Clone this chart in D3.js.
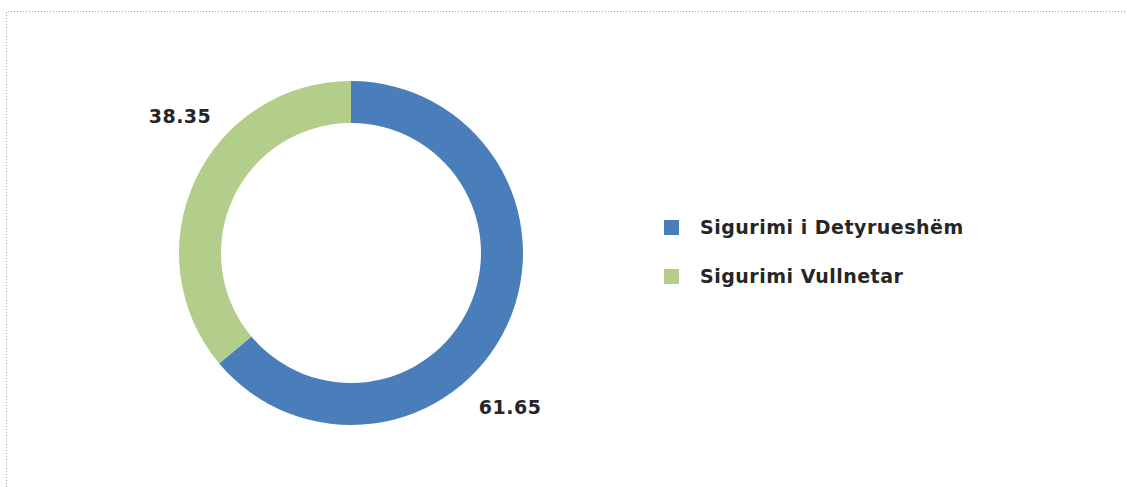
<!DOCTYPE html>
<html>
<head>
<meta charset="utf-8">
<script src="https://cdn.jsdelivr.net/npm/d3@7"></script>
<style>
  body { margin: 0; background: #fff; }
  text { font-family: "DejaVu Sans", sans-serif; font-weight: bold; fill: #262626; letter-spacing: 0.5px; }
</style>
</head>
<body>
<div id="chart"></div>
<script>
// data
var categories = ['Sigurimi i Detyrueshëm', 'Sigurimi Vullnetar']
var values = [61.65, 38.35]          // printed labels
var drawnShare = [63.9, 36.1]        // slice sizes as actually drawn in the source picture
var colors = ['#4A7EBB', '#B3CD8A']

var width = 1127
var height = 487
var cx = 351, cy = 253
var outerR = 172, innerR = 130

var svg = d3.select('#chart').append('svg')
  .attr('width', width)
  .attr('height', height)

// dotted frame (top and left only visible)
svg.append('path')
  .attr('d', 'M6.5,' + height + 'V11.5H' + width)
  .attr('fill', 'none')
  .attr('stroke', '#a6a6a6')
  .attr('stroke-width', 1)
  .attr('stroke-dasharray', '1,2')

var pie = d3.pie().sort(null).value(function(d) { return d })
var arcs = pie(drawnShare)

var arc = d3.arc().innerRadius(innerR).outerRadius(outerR)

var g = svg.append('g').attr('transform', 'translate(' + cx + ',' + cy + ')')

g.selectAll('path.slice')
  .data(arcs)
  .enter()
  .append('path')
  .attr('class', 'slice')
  .attr('d', arc)
  .attr('fill', function(d, i) { return colors[i] })

// labels sit outside the ring, a bit past the middle of each slice
var labelR = 221
var labelShift = [0.33, 0.235]  // radians added to the mid angle
g.selectAll('text.val')
  .data(arcs)
  .enter()
  .append('text')
  .attr('class', 'val')
  .attr('text-anchor', 'middle')
  .attr('font-size', 19)
  .attr('x', function(d, i) { return labelR * Math.sin((d.startAngle + d.endAngle) / 2 + labelShift[i]) + i * 2 })
  .attr('y', function(d, i) { return -labelR * Math.cos((d.startAngle + d.endAngle) / 2 + labelShift[i]) + 8 })
  .text(function(d, i) { return values[i].toFixed(2) })

// legend
var legend = svg.append('g').attr('transform', 'translate(664,220)')
var item = legend.selectAll('g')
  .data(categories)
  .enter()
  .append('g')
  .attr('transform', function(d, i) { return 'translate(0,' + (i * 49) + ')' })

item.append('rect')
  .attr('width', 15)
  .attr('height', 15)
  .attr('fill', function(d, i) { return colors[i] })

item.append('text')
  .attr('x', 36)
  .attr('y', 14)
  .attr('font-size', 19)
  .text(function(d) { return d })
</script>
</body>
</html>
